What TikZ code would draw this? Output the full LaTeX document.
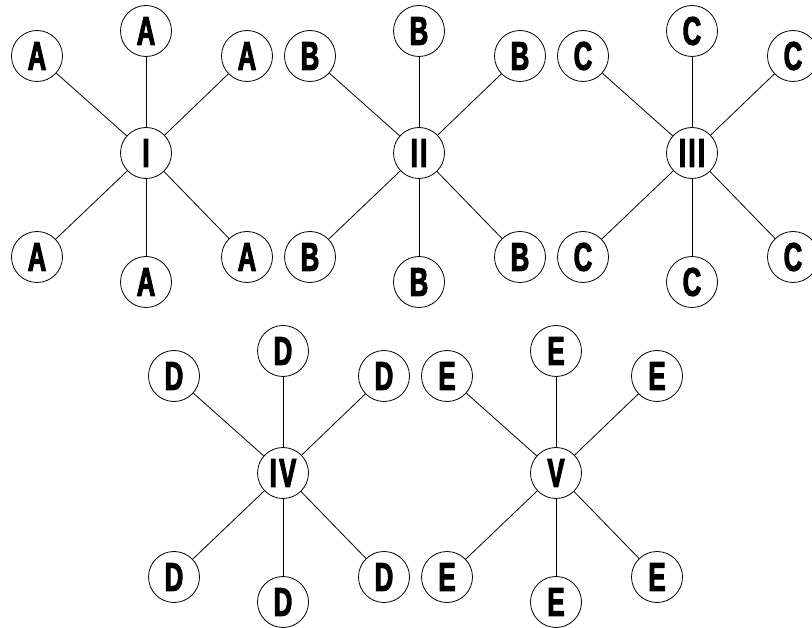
\documentclass[tikz,border=0pt]{standalone}
\usepackage{fontspec}
\newfontfamily\lblfont[FakeStretch=0.64,FakeBold=2.5]{Liberation Sans Bold}
\newfontfamily\hubfont[FakeStretch=0.64,FakeBold=2.5,LetterSpace=6]{Liberation Sans Bold}
\begin{document}
\begin{tikzpicture}[x=1pt,y=-1pt,
  cnode/.style={circle,draw=black,line width=0.8pt,fill=white,minimum size=51pt,inner sep=0pt,font=\lblfont\fontsize{40}{40}\selectfont},
  hub/.style={cnode,font=\hubfont\fontsize{40}{40}\selectfont},
  edge/.style={draw=black,line width=0.8pt}]
\useasboundingbox (0,0) rectangle (812,628);
\newcommand\starfig[5]{%
  \node[hub] (#1c) at (#2,#3) {#4};
  \node[cnode] (#1t) at (#2,#3-122) {#5};
  \node[cnode] (#1ul) at (#2-109,#3-97) {#5};
  \node[cnode] (#1ur) at (#2+101,#3-97) {#5};
  \node[cnode] (#1ll) at (#2-109,#3+104) {#5};
  \node[cnode] (#1b) at (#2,#3+129) {#5};
  \node[cnode] (#1lr) at (#2+101,#3+104) {#5};
  \draw[edge] (#1c) -- (#1t);
  \draw[edge] (#1c) -- (#1ul);
  \draw[edge] (#1c) -- (#1ur);
  \draw[edge] (#1c) -- (#1ll);
  \draw[edge] (#1c) -- (#1b);
  \draw[edge] (#1c) -- (#1lr);
}
\starfig{s1}{146}{153}{I}{A}
\starfig{s2}{419}{153}{II}{B}
\starfig{s3}{692}{153}{III}{C}
\starfig{s4}{283}{473}{IV}{D}
\starfig{s5}{556}{473}{V}{E}
\end{tikzpicture}
\end{document}
